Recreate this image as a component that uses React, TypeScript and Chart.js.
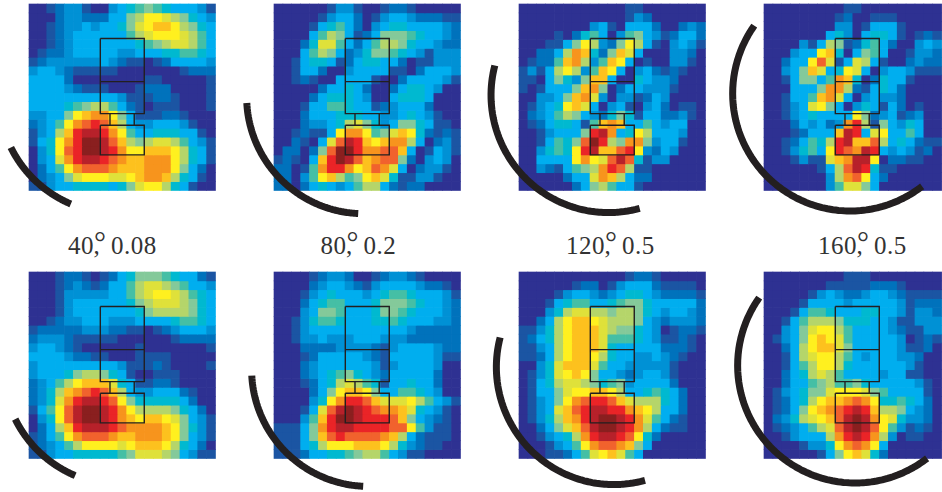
import React, { useEffect, useRef } from "react";
import { Chart, registerables } from "chart.js";

Chart.register(...registerables);

// colour ramp: value level -> colour
const levelColors = [
  "#2e3192", "#1b55a3", "#0072bc", "#0091d5", "#00aeef", "#00b9d0", "#45bfa5", "#84c99a", "#b5d56a",
  "#dfe13a", "#fff01f", "#fdc11e", "#f7941d", "#f1622d", "#ea2427", "#b7212a", "#8a1f1f",
];

const map40Top = [
  [0,0,1,2,3,3,1,0,0,3,4,5,6,7,6,5,4,4,4,3,1],
  [0,0,0,2,3,3,2,2,2,4,4,7,8,10,10,9,8,7,5,4,3],
  [0,0,1,2,3,3,4,3,4,4,5,7,9,10,11,11,10,8,7,5,4],
  [0,0,1,2,3,4,4,4,4,4,4,6,8,9,10,10,10,9,8,6,4],
  [0,0,1,2,3,4,4,4,4,4,4,4,5,6,7,8,9,9,8,6,4],
  [0,1,2,2,3,4,4,4,4,4,3,3,4,4,4,5,5,6,6,5,4],
  [1,2,3,3,3,3,3,3,4,3,2,1,1,0,1,2,4,4,4,4,3],
  [3,4,4,3,2,1,1,1,1,1,0,0,0,0,0,0,0,1,2,2,2],
  [4,4,4,4,2,0,0,0,0,0,0,0,0,1,1,0,0,0,0,0,1],
  [4,4,4,4,3,2,1,1,1,0,0,0,1,2,2,2,0,0,0,0,1],
  [4,4,4,4,4,4,4,4,4,4,3,1,1,1,2,2,1,0,0,0,1],
  [4,4,4,4,5,6,7,8,8,6,4,2,1,0,1,1,1,0,0,0,1],
  [3,3,4,4,7,10,11,12,12,10,7,4,1,1,1,2,2,1,0,0,0],
  [2,3,4,6,10,12,13,14,13,11,8,4,3,3,4,4,4,3,1,0,0],
  [1,3,4,8,11,14,15,15,14,12,10,6,4,4,5,5,5,4,4,1,0],
  [1,4,5,10,12,14,16,16,15,13,11,8,7,8,9,9,8,6,4,3,1],
  [0,3,5,10,13,14,16,16,15,14,12,10,10,11,11,11,10,8,5,4,1],
  [0,3,4,9,12,14,15,15,14,13,12,11,11,12,12,12,10,8,5,4,1],
  [0,2,4,6,10,12,13,13,13,12,11,11,11,12,12,12,10,7,4,2,0],
  [0,2,3,4,7,9,10,10,10,9,9,10,11,12,12,11,8,5,4,1,0],
  [1,1,3,4,4,5,5,5,5,4,5,7,9,10,10,8,5,4,1,0,0],
];

const map80Top = [
  [0,0,0,0,0,0,1,3,3,1,0,0,1,2,2,1,0,0,0,0,0],
  [0,0,0,0,0,1,3,4,4,2,0,1,3,4,4,3,2,2,2,1,1],
  [0,0,0,0,1,4,5,6,4,2,0,3,4,5,5,4,4,4,4,3,2],
  [0,0,0,0,4,6,8,7,4,1,2,4,7,7,7,6,5,4,4,3,2],
  [0,0,0,2,5,9,9,6,4,2,4,6,8,8,7,5,4,4,3,2,2],
  [0,0,0,4,6,8,7,4,2,3,5,7,7,6,5,4,3,1,3,3,3],
  [0,0,1,4,5,5,4,1,2,4,5,5,4,4,2,0,1,1,3,3,3],
  [0,0,1,4,4,2,0,0,3,4,4,4,4,1,1,0,2,4,4,4,3],
  [0,0,1,2,1,0,0,4,4,4,4,1,0,0,2,4,4,4,4,3,1],
  [0,0,0,0,0,2,4,4,5,4,2,0,0,2,4,5,5,4,3,0,0],
  [0,0,0,0,2,4,5,5,5,4,3,0,0,4,5,5,5,4,0,0,0],
  [0,0,0,1,4,4,6,6,5,4,4,1,2,3,4,4,4,2,0,0,0],
  [0,0,0,2,4,4,4,5,5,5,4,4,3,3,4,5,4,3,1,0,0],
  [0,0,0,2,3,3,4,5,8,9,7,5,3,4,7,7,5,4,1,1,0],
  [0,0,1,2,1,1,4,10,12,12,10,6,7,9,11,10,5,2,1,2,1],
  [0,0,2,1,0,4,9,13,15,14,11,10,11,12,12,8,4,0,2,3,1],
  [0,2,2,0,2,7,13,16,16,14,12,12,13,13,11,4,0,1,4,3,1],
  [1,2,1,0,4,11,14,16,15,13,11,12,13,13,7,2,0,3,4,3,0],
  [2,2,0,1,6,12,14,14,12,10,11,13,12,9,4,0,2,3,3,1,0],
  [2,2,0,3,6,10,11,8,6,7,10,11,9,5,1,1,3,3,1,0,0],
  [2,2,0,2,4,5,4,3,4,6,8,8,4,2,1,2,2,0,0,0,0],
];

const map120Top = [
  [0,0,0,0,0,0,0,0,0,0,0,0,1,1,0,0,0,0,0,0,0],
  [0,0,0,0,0,0,0,0,0,0,0,0,1,3,2,0,0,0,0,0,0],
  [0,0,0,0,0,0,0,0,3,4,1,0,4,4,4,2,0,0,2,3,2],
  [0,0,0,0,1,0,2,5,6,4,0,3,6,7,4,3,1,2,4,4,2],
  [0,0,0,1,1,4,7,10,8,3,2,7,10,8,4,1,0,3,4,3,1],
  [0,0,2,2,4,8,12,11,5,2,7,11,9,4,0,0,0,3,3,2,0],
  [0,1,2,2,6,11,12,8,3,6,11,10,4,0,1,0,0,3,3,1,0],
  [1,3,1,4,8,10,8,3,6,11,10,4,0,3,4,2,1,2,1,0,0],
  [1,1,0,4,7,5,3,7,11,11,4,0,0,5,4,3,3,2,0,0,0],
  [1,0,1,4,4,4,7,11,12,7,0,2,4,4,3,3,3,1,0,0,0],
  [0,0,3,3,4,7,11,12,9,3,0,3,3,1,2,4,3,0,0,0,0],
  [0,1,3,4,5,10,11,9,4,0,3,4,1,0,3,4,2,0,1,1,0],
  [0,2,3,4,6,8,7,4,3,2,5,7,5,1,4,4,2,2,3,1,0],
  [0,1,2,4,5,5,4,1,6,11,12,11,4,4,6,4,3,4,4,0,0],
  [0,0,1,3,4,4,4,7,14,15,12,4,5,10,8,4,4,4,3,0,0],
  [0,0,1,4,6,5,7,13,16,14,8,7,12,12,7,3,4,4,1,0,0],
  [0,0,3,5,6,5,10,14,15,11,11,13,14,10,3,2,4,3,0,0,0],
  [0,0,4,4,4,4,10,12,10,9,13,15,13,5,1,3,3,0,0,0,0],
  [0,0,3,2,1,4,6,7,8,12,14,13,8,1,1,0,0,0,0,0,0],
  [0,0,0,0,0,2,4,4,9,12,11,8,4,2,2,0,0,0,0,0,0],
  [0,0,0,0,0,0,2,4,7,8,6,4,4,1,0,0,0,0,0,0,0],
];

const map160Top = [
  [0,0,0,0,0,0,0,0,0,1,1,0,0,0,0,0,0,0,0,0],
  [0,0,0,0,0,0,0,0,1,2,0,0,1,1,1,0,0,0,0,0],
  [0,0,0,0,0,0,0,0,3,3,0,1,4,4,4,1,0,0,0,0],
  [0,0,0,0,0,0,0,4,5,3,0,4,5,5,4,1,0,1,2,1],
  [0,0,0,0,3,1,4,8,7,1,2,5,6,4,2,0,0,3,4,3],
  [0,0,0,3,4,4,10,11,5,0,4,7,6,4,0,0,1,3,3,2],
  [0,0,2,4,4,10,13,9,1,4,9,8,4,1,0,0,2,3,2,2],
  [0,0,3,4,7,11,9,4,5,10,9,4,0,3,4,4,3,1,1,1],
  [0,0,1,4,7,7,4,6,12,11,5,0,2,5,4,4,1,0,0,0],
  [0,0,0,4,4,4,7,12,12,8,2,1,4,5,4,2,0,0,0,0],
  [0,0,1,4,4,6,11,12,9,4,0,3,4,3,3,2,0,0,0,0],
  [0,0,1,3,4,9,10,7,4,0,3,5,4,1,4,2,0,1,0,0],
  [0,0,1,3,4,5,4,4,4,4,10,7,2,3,4,1,2,3,0,0],
  [0,0,0,2,4,3,4,2,3,12,14,8,1,7,4,3,5,4,0,0],
  [0,0,0,1,2,4,4,4,11,15,14,4,9,10,4,4,6,4,0,0],
  [0,0,1,2,4,6,5,8,14,15,11,11,13,8,4,5,4,2,1,1],
  [0,0,1,3,5,6,4,10,14,13,12,15,14,4,3,4,3,1,2,0],
  [0,0,0,1,3,1,1,9,11,12,15,15,10,0,2,2,1,1,0,0],
  [0,0,0,0,0,0,1,4,8,13,15,14,5,1,1,0,0,0,0,0],
  [0,0,0,0,0,0,0,3,8,12,13,10,4,2,0,0,0,0,0,0],
  [0,0,0,0,0,0,0,3,6,9,9,7,4,0,0,0,0,0,0,0],
];

const map40Bottom = [
  [0,0,0,1,2,2,1,0,1,2,4,5,7,7,7,6,5,4,4,2,1],
  [0,0,0,1,2,3,2,1,2,4,4,6,8,9,9,8,7,6,4,4,3],
  [0,0,0,1,3,3,3,3,3,4,4,6,8,9,10,10,9,8,6,5,4],
  [0,0,0,1,3,4,4,4,4,4,4,5,7,8,9,9,9,8,7,5,4],
  [0,0,0,1,3,4,4,4,4,4,4,4,5,7,8,8,8,8,7,5,4],
  [0,0,1,2,3,3,4,4,4,3,3,3,4,4,4,4,5,6,6,5,4],
  [1,2,2,2,2,2,3,3,3,2,2,1,1,0,1,2,3,4,4,4,3],
  [2,3,3,3,2,1,1,1,1,1,0,0,0,0,0,0,1,2,2,2,2],
  [3,4,4,3,2,1,0,0,0,0,0,0,1,0,0,0,0,0,0,0,1],
  [4,4,4,4,3,2,2,1,1,0,0,0,1,1,1,1,0,0,0,0,0],
  [3,4,4,4,4,4,4,4,4,4,3,1,1,1,2,1,0,0,0,0,1],
  [3,4,4,4,5,7,8,8,7,5,4,1,0,0,1,1,1,0,0,0,0],
  [2,3,4,6,8,10,11,11,11,9,5,4,1,1,2,2,1,0,0,0,0],
  [2,3,5,8,11,12,13,14,13,11,8,4,3,3,4,4,4,2,1,0,0],
  [2,3,5,9,12,14,15,15,14,13,10,7,5,5,5,5,5,4,2,0,0],
  [1,4,6,10,13,15,16,16,15,14,12,10,8,8,8,8,7,5,4,2,0],
  [0,3,5,10,13,15,16,16,15,14,12,11,10,11,11,10,9,7,4,3,1],
  [0,2,4,8,11,14,15,15,15,14,13,12,12,12,12,11,10,7,5,3,1],
  [1,2,4,6,10,12,13,13,13,12,11,11,12,12,12,11,10,7,4,3,1],
  [1,2,3,4,6,8,10,10,10,10,9,10,11,11,11,10,8,5,4,2,0],
  [1,1,3,4,4,5,5,5,5,5,6,7,9,9,9,8,7,4,3,1,1],
];

const map80Bottom = [
  [0,0,0,0,1,2,3,3,2,0,0,1,2,3,3,2,1,0,0,0,0],
  [0,0,0,0,2,3,4,4,3,2,1,3,4,4,4,4,3,2,2,1,0],
  [0,0,0,1,3,4,5,4,4,4,3,4,5,6,6,5,4,4,4,3,1],
  [0,0,0,2,4,5,6,6,4,4,4,5,7,7,7,6,5,4,4,3,2],
  [0,0,0,3,4,7,7,6,4,4,4,5,7,7,6,5,4,4,4,3,2],
  [0,0,1,3,5,6,6,5,4,4,4,5,5,6,5,4,4,4,3,3,2],
  [0,0,1,3,4,4,4,4,4,4,4,4,4,4,4,3,2,2,2,2,2],
  [0,0,1,3,3,4,3,3,3,4,4,4,3,3,3,2,2,2,2,2,2],
  [0,0,0,2,2,2,2,3,3,3,3,2,1,3,4,4,4,4,3,2,2],
  [0,0,0,1,2,4,4,4,4,4,3,2,1,4,4,4,4,4,3,1,1],
  [0,0,0,2,3,4,4,4,4,4,4,3,1,3,4,4,4,4,3,0,0],
  [0,0,0,2,3,4,5,6,7,5,4,3,2,4,4,4,4,4,2,0,0],
  [0,0,0,1,2,4,5,8,9,8,6,5,1,4,4,5,4,4,2,0,0],
  [0,0,0,0,2,4,7,10,11,11,10,7,4,4,6,6,5,4,3,0,0],
  [0,0,0,0,3,5,10,12,14,14,13,11,9,9,9,10,8,6,4,3,1],
  [0,0,0,1,4,9,13,15,16,15,14,13,12,12,11,9,5,4,3,1,0],
  [0,0,0,3,6,11,14,16,16,15,14,14,14,13,11,7,4,3,2,1,0],
  [1,1,1,4,7,12,14,15,15,14,14,14,14,13,13,10,6,3,1,1,0],
  [1,1,1,4,7,11,13,14,13,13,13,13,12,11,8,4,2,1,1,1,0],
  [1,1,1,4,5,8,10,10,10,11,11,11,10,8,5,3,2,1,1,0,0],
  [1,1,1,2,4,4,5,5,6,7,8,8,6,4,3,1,1,0,0,0,0],
];

const map120Bottom = [
  [0,0,0,0,0,0,0,0,0,0,0,0,1,2,2,1,0,0,0,0,0],
  [0,0,0,0,0,0,1,2,2,0,1,3,4,4,4,2,1,1,1,1,0],
  [0,0,0,0,1,3,4,4,3,2,3,4,5,5,4,3,2,2,2,2,1],
  [0,0,0,1,4,5,6,6,4,4,5,6,7,7,5,4,4,4,4,4,2],
  [0,0,0,3,5,8,9,9,8,8,7,8,8,7,5,4,3,4,4,3,2],
  [0,0,2,4,8,10,11,11,10,9,8,8,8,7,4,3,2,3,3,3,2],
  [1,1,3,5,8,10,11,11,11,9,8,7,7,5,4,3,0,1,2,2,1],
  [1,2,4,5,8,10,11,11,11,9,6,6,6,5,4,3,1,1,2,1,0],
  [1,1,3,4,8,10,11,11,11,9,5,4,4,4,4,4,2,2,2,1,0],
  [1,1,2,4,8,10,11,11,10,8,5,4,4,3,3,4,3,2,1,0,0],
  [0,0,3,5,9,11,11,11,9,6,4,4,3,3,3,3,3,1,0,0,0],
  [0,1,3,5,9,10,11,10,7,4,4,3,2,3,4,4,3,1,0,0,0],
  [0,1,4,5,8,9,9,8,7,5,6,7,3,4,4,4,4,2,0,0,0],
  [0,1,4,4,7,9,10,10,11,11,10,8,4,4,5,6,5,4,2,0,0],
  [0,1,3,4,7,10,12,13,14,14,13,11,9,8,8,8,5,4,2,0,0],
  [0,1,3,4,9,11,13,14,15,15,14,14,12,11,10,8,4,4,2,0,0],
  [0,1,3,5,8,11,12,14,15,16,16,15,14,12,9,6,4,2,1,0,0],
  [0,0,2,4,7,9,11,13,15,16,16,15,14,12,8,4,2,1,1,0,0],
  [0,0,1,3,4,5,8,12,14,15,15,14,13,10,5,2,0,0,0,0,0],
  [0,0,0,1,3,4,6,10,12,13,13,12,11,7,4,0,0,0,0,0,0],
  [0,0,0,1,1,2,4,6,9,10,11,9,6,4,0,0,0,0,0,0,0],
];

const map160Bottom = [
  [0,0,0,0,0,0,0,0,0,1,1,1,0,0,0,0,0,0,0,0],
  [0,0,0,0,0,0,0,1,1,1,1,1,2,2,2,1,0,0,0,0],
  [0,0,0,0,0,1,3,4,3,2,2,3,4,4,3,2,1,1,1,1],
  [0,0,0,0,1,4,4,4,4,3,4,4,4,4,4,3,1,2,2,2],
  [0,0,0,1,4,6,6,5,4,4,4,5,5,4,4,3,1,3,3,2],
  [0,0,1,4,6,8,8,8,7,5,5,5,4,4,3,1,1,3,3,3],
  [0,0,3,4,7,9,10,10,8,6,4,4,4,4,3,2,1,1,3,3],
  [0,1,3,4,7,10,11,10,9,6,4,4,4,4,4,3,0,1,2,1],
  [0,0,2,4,8,10,11,11,9,7,4,4,4,4,4,3,1,1,2,0],
  [0,0,1,4,8,9,10,10,8,6,4,3,4,4,4,3,3,2,0,0],
  [0,0,1,4,6,8,10,10,8,5,4,4,4,4,4,4,3,1,0,0],
  [0,0,2,4,5,8,9,8,6,4,4,4,4,3,4,4,1,1,0,0],
  [0,0,2,4,4,6,7,8,6,6,7,5,4,4,4,4,4,3,1,0],
  [0,1,3,4,5,7,7,9,10,10,10,9,7,6,4,4,4,4,1,0],
  [0,1,2,4,5,8,10,11,11,12,13,12,10,5,5,6,5,4,2,0],
  [0,1,2,4,7,10,11,12,13,14,15,14,11,8,8,7,4,3,2,0],
  [0,2,3,5,8,9,10,11,13,15,16,15,12,10,9,5,3,3,2,0],
  [0,1,2,3,4,6,8,9,13,15,16,15,13,10,6,3,1,2,1,0],
  [0,0,1,3,4,4,4,8,12,14,15,14,12,8,3,0,1,1,0,0],
  [0,0,0,0,1,3,3,5,10,12,13,12,10,4,0,0,0,0,0,0],
  [0,0,0,0,0,0,1,4,7,10,11,9,5,2,0,0,0,0,0,0],
];

// robot outline, in heat-map cell units
const bodyLeft = 8.03;
const bodyRight = 12.98;
const neckLeft = 9.12;
const neckRight = 11.85;
const outlineLevels = [3.89, 8.74, 12.35, 13.66, 16.99];

const CELL = 8.88;

const panels = [
  { grid: map40Top, x0: 29, y0: 4, box: [0, 0, 235, 225], arc: [9.89, 10.26, 13.31, 153.7, 112.9] },
  { grid: map80Top, x0: 274, y0: 4, box: [235, 0, 245, 225], arc: [10.08, 10.45, 13.16, 177, 92.6] },
  { grid: map120Top, x0: 519, y0: 4, box: [480, 0, 235, 225], arc: [10.08, 10.26, 13.23, 194.6, 74.6] },
  { grid: map160Top, x0: 764, y0: 4, box: [715, 0, 227, 225], arc: [9.7, 10.08, 13.23, 215.3, 52.2] },
  { grid: map40Bottom, x0: 29, y0: 272, box: [0, 265, 235, 227], arc: [10.38, 10.67, 13.31, 153.7, 112.9] },
  { grid: map80Bottom, x0: 274, y0: 272, box: [235, 265, 245, 227], arc: [10.64, 10.98, 13.16, 177, 92.6] },
  { grid: map120Bottom, x0: 519, y0: 272, box: [480, 265, 235, 227], arc: [10.68, 10.71, 13.23, 194.6, 74.6] },
  { grid: map160Bottom, x0: 764, y0: 272, box: [715, 265, 227, 227], arc: [10.26, 10.53, 13.23, 215.3, 52.2] },
];

const captions = [
  { angle: "40", tail: " 0.08", left: 68 },
  { angle: "80", tail: " 0.2", left: 320.5 },
  { angle: "120", tail: " 0.5", left: 566 },
  { angle: "160", tail: " 0.5", left: 818 },
];

const INK = "#231f20";

function outlineDataset(points: { x: number; y: number }[]) {
  return {
    type: "line",
    data: points,
    borderColor: INK,
    borderWidth: 1.4,
    pointRadius: 0,
    tension: 0,
    fill: false,
    order: -1,
  };
}

function Panel({ panel }: { panel: (typeof panels)[number] }) {
  const ref = useRef<HTMLCanvasElement>(null);
  useEffect(() => {
    const [left, top, width, height] = panel.box;
    const [y1, y2, y3, y4, y5] = outlineLevels;
    const cellSets = panel.grid.map((row, r) => ({
      type: "bar",
      data: row.map((_, c) => ({ x: c + 0.5, y: [r, r + 1] })),
      backgroundColor: row.map((v) => levelColors[v]),
      borderWidth: 0,
      grouped: false,
      barPercentage: 1,
      categoryPercentage: 1,
      order: 1,
    }));
    const [cx, cy, radius, fromDeg, toDeg] = panel.arc;
    const arcPoints = [];
    for (let i = 0; i <= 60; i++) {
      const a = ((fromDeg + ((toDeg - fromDeg) * i) / 60) * Math.PI) / 180;
      arcPoints.push({ x: cx + radius * Math.cos(a), y: cy + radius * Math.sin(a) });
    }
    const chart = new Chart(ref.current!, {
      type: "bar",
      data: {
        datasets: [
          ...cellSets,
          outlineDataset([
            { x: bodyLeft, y: y1 }, { x: bodyRight, y: y1 }, { x: bodyRight, y: y3 },
            { x: bodyLeft, y: y3 }, { x: bodyLeft, y: y1 },
          ]),
          outlineDataset([{ x: bodyLeft, y: y2 }, { x: bodyRight, y: y2 }]),
          outlineDataset([{ x: neckLeft, y: y3 }, { x: neckLeft, y: y4 }]),
          outlineDataset([{ x: neckRight, y: y3 }, { x: neckRight, y: y4 }]),
          outlineDataset([
            { x: bodyLeft, y: y4 }, { x: bodyRight, y: y4 }, { x: bodyRight, y: y5 },
            { x: bodyLeft, y: y5 }, { x: bodyLeft, y: y4 },
          ]),
          {
            type: "line",
            data: arcPoints,
            borderColor: INK,
            borderWidth: 7,
            borderCapStyle: "butt",
            borderJoinStyle: "round",
            pointRadius: 0,
            tension: 0.001,
            fill: false,
            order: -2,
          },
        ] as any,
      },
      options: {
        animation: false,
        responsive: false,
        maintainAspectRatio: false,
        layout: { padding: 0 },
        plugins: { legend: { display: false }, title: { display: false }, tooltip: { enabled: false } },
        scales: {
          x: {
            type: "linear",
            display: false,
            offset: false,
            min: (left - panel.x0) / CELL,
            max: (left + width - panel.x0) / CELL,
          },
          y: {
            type: "linear",
            display: false,
            reverse: true,
            min: (top - panel.y0) / CELL,
            max: (top + height - panel.y0) / CELL,
          },
        },
      },
    } as any);
    return () => chart.destroy();
  }, [panel]);
  const [left, top, width, height] = panel.box;
  return (
    <canvas
      ref={ref}
      width={width}
      height={height}
      style={{ position: "absolute", left, top, width, height, display: "block" }}
    />
  );
}

export default function App() {
  return (
    <div style={{ position: "absolute", left: 0, top: 0, width: 942, height: 492, overflow: "hidden", background: "#fff" }}>
      {panels.map((p, i) => (
        <Panel key={i} panel={p} />
      ))}
      {captions.map((c, i) => (
        <div
          key={i}
          style={{
            position: "absolute",
            left: c.left,
            top: 228,
            fontFamily: "'Liberation Serif', serif",
            fontSize: 25,
            letterSpacing: 0.5,
            wordSpacing: 4,
            lineHeight: "32px",
            color: "#333",
            whiteSpace: "pre",
          }}
        >
          {c.angle}
          <span style={{ fontSize: 30, marginRight: -13, position: "relative", top: -2 }}>°</span>
          {","}
          {c.tail}
        </div>
      ))}
    </div>
  );
}
